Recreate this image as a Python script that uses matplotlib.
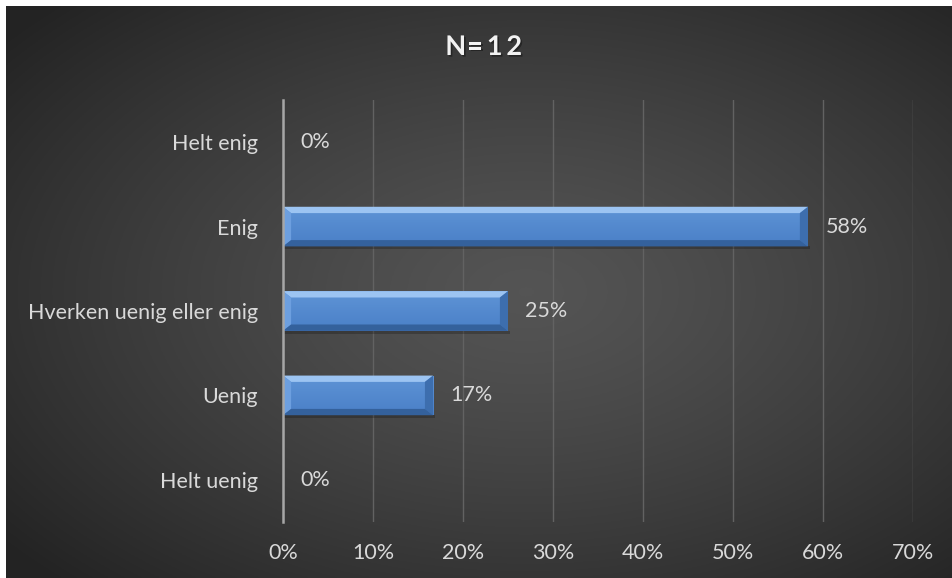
import numpy as np
import matplotlib.pyplot as plt
import matplotlib.patheffects as pe
from matplotlib.patches import Polygon

categories = ['Helt enig', 'Enig', 'Hverken uenig eller enig', 'Uenig', 'Helt uenig']
values = [0.0, 58.33, 25.0, 16.67, 0.0]
value_labels = ['0%', '58%', '25%', '17%', '0%']
xticks = [0, 10, 20, 30, 40, 50, 60, 70]
xtick_labels = ['0%', '10%', '20%', '30%', '40%', '50%', '60%', '70%']
title = 'N=12'

plt.rcParams['font.family'] = ['Lato', 'DejaVu Sans']

W, H = 952, 578
fig = plt.figure(figsize=(W / 100, H / 100), dpi=100, facecolor='white')

# background: dark radial gradient (white strip at top and left)
bg = fig.add_axes([6 / W, 0, 1 - 6 / W, 1 - 6 / H])
bg.set_axis_off()
yy, xx = np.mgrid[0:1:300j, 0:1:500j]
r = np.sqrt(((xx - 0.55) / 0.75) ** 2 + ((yy - 0.5) / 0.75) ** 2)
g = 0.33 - 0.19 * np.clip(r / 0.94, 0, 1) ** 1.3
bg.imshow(np.dstack([g, g, g]), aspect='auto', extent=[0, 1, 0, 1])
bg.set_xlim(0, 1)
bg.set_ylim(0, 1)

ax = fig.add_axes([283 / W, 1 - 522 / H, 630 / W, 422 / H])
ax.patch.set_alpha(0)
ax.set_zorder(2)

y = np.arange(len(categories))
bh = 0.47
bars = ax.barh(y, values, height=bh, color='#4f86cc', zorder=3)

dx = 0.9
dy = 0.075
grad = np.linspace(0, 1, 100).reshape(-1, 1)
for b in bars:
    w = b.get_width()
    if w <= 0:
        continue
    y0 = b.get_y()
    y1 = y0 + b.get_height()
    # shadow
    ax.add_patch(Polygon([(0.1, y1), (w + 0.2, y1), (w + 0.2, y1 + 0.035), (0.1, y1 + 0.035)],
                         closed=True, color='black', alpha=0.22, lw=0, zorder=2))
    face = np.dstack([0.29 + 0.08 * (1 - grad), 0.50 + 0.08 * (1 - grad), 0.78 + 0.06 * (1 - grad)])
    im = ax.imshow(face, aspect='auto', extent=[0, w, y1, y0], zorder=4, origin='upper')
    im.set_clip_path(b)
    # bevel faces
    ax.add_patch(Polygon([(0, y0), (w, y0), (w - dx, y0 + dy), (dx, y0 + dy)],
                         closed=True, color='#9cc4f2', lw=0, zorder=5))
    ax.add_patch(Polygon([(0, y0), (dx, y0 + dy), (dx, y1 - dy), (0, y1)],
                         closed=True, color='#6d9fdf', lw=0, zorder=5))
    ax.add_patch(Polygon([(w, y0), (w, y1), (w - dx, y1 - dy), (w - dx, y0 + dy)],
                         closed=True, color='#3d6eae', lw=0, zorder=5))
    ax.add_patch(Polygon([(0, y1), (w, y1), (w - dx, y1 - dy), (dx, y1 - dy)],
                         closed=True, color='#34619c', lw=0, zorder=5))

for yi, v, lab in zip(y, values, value_labels):
    ax.annotate(lab, (v, yi), xytext=(12.5, 0), textcoords='offset points',
                ha='left', va='center', fontsize=15.5, color='#d9d9d9', zorder=6)

ax.set_xlim(0, 70)
ax.set_ylim(len(categories) - 0.5, -0.5)
ax.set_xticks(xticks)
ax.set_xticklabels(xtick_labels)
ax.set_yticks(y)
ax.set_yticklabels(categories)
ax.tick_params(axis='both', length=0, labelsize=15.5, colors='#d9d9d9')
ax.tick_params(axis='y', pad=18)
ax.tick_params(axis='x', pad=15)
ax.grid(axis='x', color='#626262', lw=1, zorder=1)
ax.set_axisbelow(True)
for s in ['top', 'right', 'bottom']:
    ax.spines[s].set_visible(False)
ax.spines['left'].set_color('#a6a6a6')
ax.spines['left'].set_linewidth(1.8)
ax.spines['left'].set_zorder(7)

# title with wide letter spacing and a soft shadow
step = 19.5 / W
x0 = 485 / W - step * (len(title) - 1) / 2
shadow = [pe.SimplePatchShadow(offset=(1.2, -1.2), shadow_rgbFace='black', alpha=0.35), pe.Normal()]
for i, ch in enumerate(title):
    fig.text(x0 + i * step, 1 - 47 / H, ch, ha='center', va='center', fontsize=19.5,
             fontweight='bold', color='#f2f2f2', path_effects=shadow)

fig.savefig('out.png', dpi=100, facecolor='white')
